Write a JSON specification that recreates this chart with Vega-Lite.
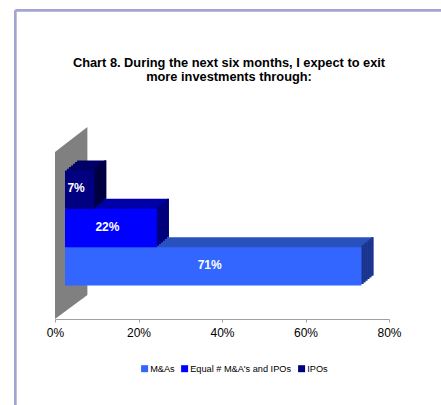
{
  "$schema": "https://vega.github.io/schema/vega-lite/v6.json",
  "width": 334,
  "height": 192,
  "autosize": "none",
  "padding": {"left": 55, "top": 127, "right": 52, "bottom": 86},
  "background": "white",
  "config": {"view": {"stroke": null}, "font": "Liberation Sans"},
  "title": {
    "text": ["Chart 8. During the next six months, I expect to exit", "more investments through:"],
    "font": "Liberation Sans", "fontSize": 12.8, "fontWeight": "bold", "color": "black",
    "anchor": "middle", "frame": "group", "offset": 0, "dy": 75, "dx": 7, "lineHeight": 14
  },
  "datasets": {
    "bars": [
      {"series": "M&As", "value": 71, "label": "71%"},
      {"series": "Equal # M&A's and IPOs", "value": 22, "label": "22%"},
      {"series": "IPOs", "value": 7, "label": "7%"}
    ],
    "wall": [
      {"wx": 0, "wy": 0, "wy2": 167},
      {"wx": 7.76, "wy": 24, "wy2": 192}
    ]
  },
  "resolve": {"scale": {"x": "independent", "y": "independent"}},
  "layer": [
    {
      "layer": [
        {
          "data": {"name": "wall"},
          "mark": {"type": "area", "color": "#808080", "orient": "vertical"},
          "encoding": {
            "x": {"field": "wx", "type": "quantitative", "scale": {"domain": [0, 80], "nice": false}, "axis": null},
            "y": {"field": "wy", "type": "quantitative", "scale": {"domain": [0, 192], "nice": false, "zero": false}, "axis": null},
            "y2": {"field": "wy2"}
          }
        },
        {
          "data": {"values": [{}]},
          "mark": {"type": "rule", "color": "#a4a4d4", "strokeWidth": 2.7},
          "encoding": {
            "x": {"datum": -9.5, "type": "quantitative"},
            "y": {"datum": 308.7, "type": "quantitative"},
            "y2": {"datum": -100}
          }
        },
        {
          "data": {"values": [{}]},
          "mark": {"type": "rule", "color": "#a4a4d4", "strokeWidth": 2.7},
          "encoding": {
            "x": {"datum": -9.5, "type": "quantitative"},
            "x2": {"datum": 120},
            "y": {"datum": 308.7, "type": "quantitative"}
          }
        }
      ]
    },
    {
      "data": {"name": "bars"},
      "encoding": {
        "y": {"field": "series", "type": "nominal", "sort": ["IPOs", "Equal # M&A's and IPOs", "M&As"], "scale": {"type": "band", "paddingInner": 0, "paddingOuter": 1.06}, "axis": null},
        "x": {
          "field": "value", "type": "quantitative",
          "scale": {"domain": [0, 80], "nice": false},
          "axis": {
            "orient": "bottom",
            "values": [0, 20, 40, 60, 80], "labelExpr": "datum.value + '%'", "title": null, "grid": false,
            "domainColor": "#a0a0a0", "tickColor": "#a0a0a0", "tickSize": 3, "labelFlush": false,
            "labelFont": "Liberation Sans", "labelFontSize": 12, "labelColor": "black", "labelPadding": 5
          }
        }
      },
      "layer": [
        {"mark": {"type": "bar", "xOffset": 22, "x2Offset": 22, "yOffset": -5, "y2Offset": -5},
         "encoding": {"color": {"condition": [{"test": "datum.series === 'M&As'", "value": "#2a52be"}, {"test": "datum.series === 'IPOs'", "value": "#000066"}], "value": "#0000a8"}}},
        {"mark": {"type": "bar", "xOffset": 20, "x2Offset": 20, "yOffset": -3.33, "y2Offset": -3.33},
         "encoding": {"color": {"condition": [{"test": "datum.series === 'M&As'", "value": "#2a52be"}, {"test": "datum.series === 'IPOs'", "value": "#000066"}], "value": "#0000a8"}}},
        {"mark": {"type": "bar", "xOffset": 18, "x2Offset": 18, "yOffset": -1.67, "y2Offset": -1.67},
         "encoding": {"color": {"condition": [{"test": "datum.series === 'M&As'", "value": "#2a52be"}, {"test": "datum.series === 'IPOs'", "value": "#000066"}], "value": "#0000a8"}}},
        {"mark": {"type": "bar", "xOffset": 16, "x2Offset": 16, "yOffset": 0, "y2Offset": 0},
         "encoding": {"color": {"condition": [{"test": "datum.series === 'M&As'", "value": "#2a52be"}, {"test": "datum.series === 'IPOs'", "value": "#000066"}], "value": "#0000a8"}}},
        {"mark": {"type": "bar", "xOffset": 14, "x2Offset": 14, "yOffset": 1.67, "y2Offset": 1.67},
         "encoding": {"color": {"condition": [{"test": "datum.series === 'M&As'", "value": "#2a52be"}, {"test": "datum.series === 'IPOs'", "value": "#000066"}], "value": "#0000a8"}}},
        {"mark": {"type": "bar", "xOffset": 12, "x2Offset": 12, "yOffset": 3.33, "y2Offset": 3.33},
         "encoding": {"color": {"condition": [{"test": "datum.series === 'M&As'", "value": "#2a52be"}, {"test": "datum.series === 'IPOs'", "value": "#000066"}], "value": "#0000a8"}}},

        {"mark": {"type": "bar", "xOffset": 10, "x2Offset": 12, "yOffset": 3.33, "y2Offset": 3.33},
         "encoding": {"x2": {"field": "value"}, "color": {"condition": [{"test": "datum.series === 'M&As'", "value": "#1a3388"}, {"test": "datum.series === 'IPOs'", "value": "#00003f"}], "value": "#00007a"}}},
        {"mark": {"type": "bar", "xOffset": 12, "x2Offset": 14, "yOffset": 1.67, "y2Offset": 1.67},
         "encoding": {"x2": {"field": "value"}, "color": {"condition": [{"test": "datum.series === 'M&As'", "value": "#1a3388"}, {"test": "datum.series === 'IPOs'", "value": "#00003f"}], "value": "#00007a"}}},
        {"mark": {"type": "bar", "xOffset": 14, "x2Offset": 16, "yOffset": 0, "y2Offset": 0},
         "encoding": {"x2": {"field": "value"}, "color": {"condition": [{"test": "datum.series === 'M&As'", "value": "#1a3388"}, {"test": "datum.series === 'IPOs'", "value": "#00003f"}], "value": "#00007a"}}},
        {"mark": {"type": "bar", "xOffset": 16, "x2Offset": 18, "yOffset": -1.67, "y2Offset": -1.67},
         "encoding": {"x2": {"field": "value"}, "color": {"condition": [{"test": "datum.series === 'M&As'", "value": "#1a3388"}, {"test": "datum.series === 'IPOs'", "value": "#00003f"}], "value": "#00007a"}}},
        {"mark": {"type": "bar", "xOffset": 18, "x2Offset": 20, "yOffset": -3.33, "y2Offset": -3.33},
         "encoding": {"x2": {"field": "value"}, "color": {"condition": [{"test": "datum.series === 'M&As'", "value": "#1a3388"}, {"test": "datum.series === 'IPOs'", "value": "#00003f"}], "value": "#00007a"}}},
        {"mark": {"type": "bar", "xOffset": 20, "x2Offset": 22, "yOffset": -5, "y2Offset": -5},
         "encoding": {"x2": {"field": "value"}, "color": {"condition": [{"test": "datum.series === 'M&As'", "value": "#1a3388"}, {"test": "datum.series === 'IPOs'", "value": "#00003f"}], "value": "#00007a"}}},

        {"mark": {"type": "bar", "xOffset": 10, "x2Offset": 10, "yOffset": 5, "y2Offset": 5},
         "encoding": {
           "color": {
             "field": "series", "type": "nominal",
             "scale": {"domain": ["M&As", "Equal # M&A's and IPOs", "IPOs"], "range": ["#3366ff", "#0000ff", "#000080"]},
             "legend": {
               "title": null, "orient": "none", "direction": "horizontal", "legendX": 85, "legendY": 237,
               "symbolType": "square", "symbolSize": 49, "symbolStrokeWidth": 0, "labelFont": "Liberation Sans",
               "labelFontSize": 9.2, "labelColor": "black", "labelOffset": 1, "columnPadding": 5, "padding": 0
             }
           }
         }}
      ]
    },
    {
      "data": {"name": "bars"},
      "mark": {"type": "text", "color": "white", "font": "Liberation Sans", "fontWeight": "bold", "fontSize": 12, "xOffset": 6.5, "yOffset": 3.5, "baseline": "middle", "align": "center"},
      "encoding": {
        "x": {"field": "value", "type": "quantitative", "scale": {"domain": [0, 160], "nice": false}, "axis": null},
        "y": {"field": "series", "type": "nominal", "sort": ["IPOs", "Equal # M&A's and IPOs", "M&As"], "scale": {"type": "band", "paddingInner": 0, "paddingOuter": 1.06}, "axis": null},
        "text": {"field": "label"}
      }
    }
  ]
}
